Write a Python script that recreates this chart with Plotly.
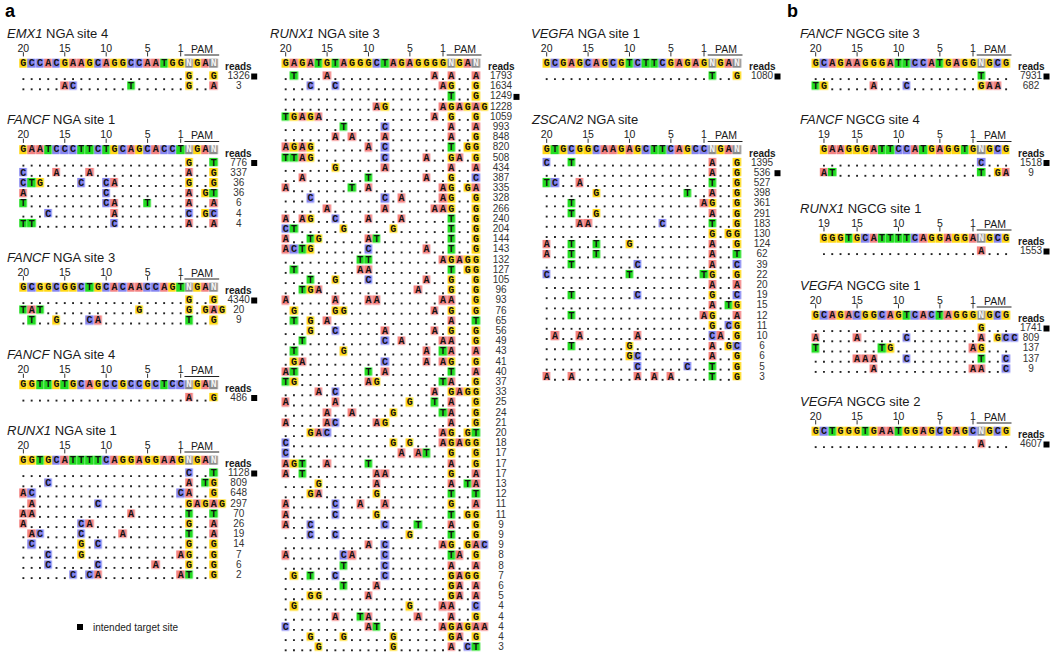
import plotly.graph_objects as go

# ======================= DATA =======================
# Reference = protospacer (5'->3') + PAM.  Mutant rows list mismatches as "<column><base>",
# column 1 = leftmost protospacer base; columns after the PAM are insertions.
EMX1_NGA4_REF = "GCCACGAAGCAGGCCAATGGNGAN"
EMX1_NGA4_MUT = ["21G 24G", "6A 7C 14T 21G 24A"]
EMX1_NGA4_READS = [1326, 3]

FANCF_NGA1_REF = "GAATCCCTTCTGCAGCACCTNGAN"
FANCF_NGA1_MUT = ["21G 24T", "1C 5A 9A 21A 24G", "1C 2T 3G 8C 11C 12A 21G 24G",
                  "1A 11C 21A 23G 24T", "1T 11C 12A 16T 21A 24A",
                  "4C 12A 21C 23G 24C", "1T 2T 12C 21A 24A"]
FANCF_NGA1_READS = [776, 337, 36, 36, 6, 4, 4]

FANCF_NGA3_REF = "GCGGCGGCTGCACAACCAGTNGAN"
FANCF_NGA3_MUT = ["21G 24G", "1T 2A 3T 15G 21G 23G 24A 25G", "2T 5G 9C 10A 21T 24G"]
FANCF_NGA3_READS = [4340, 20, 9]

FANCF_NGA4_REF = "GGTTGTGCAGCCGCCGCTCCNGAN"
FANCF_NGA4_MUT = ["21A 24G"]
FANCF_NGA4_READS = [486]

RUNX1_NGA1_REF = "GGTGCATTTTCAGGAGGAAGNGAN"
RUNX1_NGA1_MUT = ["21C 24T", "4C 21A 23T 24G", "1A 2C 20C 21A 24G",
                  "2A 10C 21G 22A 23G 24A 25G", "1A 2A 14A 21T 24T", "1A 8C 9A 21G 24A",
                  "2A 3C 8C 13A 21T 24A", "2C 8G 10C 21G 24G", "4C 8G 20A 21G 24G",
                  "4C 10C 17A 21G 24G", "7C 9C 10A 20A 21T 24G"]
RUNX1_NGA1_READS = [1128, 809, 648, 297, 70, 26, 19, 14, 7, 6, 2]

RUNX1_NGA3_REF = "GAGATGTAGGGCTAGAGGGGNGAN"
RUNX1_NGA3_MUT = [
    "2T 6A 19A 21A 24A", "4C 7C 20A 21G 24G", "21T 24G", "12A 13G 20A 21G 22A 23G 24A 25G",
    "1T 2G 3A 4G 5A 19A 21G 24G", "8T 13C 21A 24A", "7A 9A 13A 21A 24G",
    "1A 2G 3A 4G 11A 13C 21T 23G 24G", "1T 2T 3A 4G 13C 18A 21G 22A 24G", "7G 13A 21A 24A",
    "3A 11T 18A 21G 24C", "1A 9T 11A 20A 21G 23G 24A", "4C 13C 15A 20A 21G 24G",
    "6A 13A 19A 20A 21G 24G", "1A 3A 4G 7C 11A 15A 21T 24G", "1C 2T 8G 14G 21T 24G",
    "1A 4T 5G 11A 12T 21T 24G", "1A 2C 3T 4G 11C 18A 21T 24G", "10T 11T 20A 21G 22A 23G 24G",
    "2T 10A 11A 21T 23G 24G", "4T 7G 11C 18A 21G 24G", "3T 4G 5A 17A 21G 24G",
    "1A 7A 11A 12A 20A 21A 24G", "2G 7G 8G 19A 21G 24G", "2T 4G 6A 21A 24T",
    "4G 7C 13A 19A 21G 24G", "3T 13C 15A 20A 21A 24G", "2T 8G 18A 20T 21A 24A",
    "2G 3A 13C 18A 20A 21G 24G", "1A 2T 11T 13A 21T 24A", "1T 2G 11A 12G 20T 21A 24G",
    "5A 7C 19A 21G 22A 23G 24G", "1A 7A 16G 19T 21A 24G", "6A 9A 14G 20T 21A 24G",
    "1A 6A 7C 12A 13G 21A 24G", "4G 5A 6C 20A 21G 23G 24T", "1C 14G 16G 20A 21G 22A 23G 24G",
    "1C 15A 17A 18T 21G 24G", "1A 2G 3T 6A 11T 21A 24G", "1A 3T 12A 13A 21G 24A",
    "5G 12A 21A 23T 24A", "4G 5A 12G 21T 24T", "1A 7C 10A 13A 21G 24A",
    "1A 7C 12G 21T 23G 24G", "1A 4C 13C 17T 21A 24G", "4C 7C 16G 21T 24G",
    "11A 13C 20A 21G 23G 24A 25C", "1A 8C 9A 13C 21T 22A 24G", "8T 13C 21A 24A",
    "2G 4T 7C 13C 21G 22A 23G 24G", "8T 12A 21G 22A 24A", "4G 5G 11A 21G 22A 24A",
    "2G 16G 20A 21A 24C", "7A 10T 11A 17A 21A 24G", "1C 11A 12T 20A 21G 22A 23G 24A 25A",
    "4G 8G 14G 21G 22A 24G", "5G 14G 21A 23C 24T"]
RUNX1_NGA3_READS = [1793, 1634, 1249, 1228, 1059, 993, 848, 820, 508, 434, 387, 335, 328, 266,
                    240, 204, 144, 143, 132, 127, 105, 96, 93, 76, 65, 56, 49, 43, 41, 40, 37,
                    33, 25, 24, 21, 20, 18, 17, 17, 17, 13, 12, 11, 11, 9, 9, 9, 8, 8, 7, 6, 5,
                    4, 4, 4, 4, 3]

VEGFA_NGA1_REF = "GCGAGCAGCGTCTTCGAGAGNGAN"
VEGFA_NGA1_MUT = ["21T 24G"]
VEGFA_NGA1_READS = [1080]

ZSCAN2_NGA_REF = "GTGCGGCAAGAGCTTCAGCCNGAN"
ZSCAN2_NGA_MUT = ["1C 4T 21A 24G", "21A 24G", "1T 2C 5A 21T 24G", "7G 18T 21A 24G",
                  "4T 20A 21G 24G", "4T 7G 21A 24G", "5A 6A 15C 21T 24G", "21G 23G 24G",
                  "1A 4T 7T 11G 21A 24G", "1A 4T 7T 21A 24T", "4T 12C 21A 24C",
                  "1C 11T 20T 21G 24G", "21A 24A", "4T 12C 21G 24C", "21A 23T 24G",
                  "4T 20A 21G 24A", "21G 23C 24G", "2A 5A 12A 21C 22A 24G",
                  "4T 11G 21A 23G 24C", "11G 12C 21A 24G", "12C 18C 21T 24G",
                  "1A 4A 12A 14A 16A 21T 24G"]
ZSCAN2_NGA_READS = [1395, 536, 527, 398, 361, 291, 183, 130, 124, 62, 39, 22, 20, 19, 15, 12,
                    11, 10, 6, 6, 5, 3]

FANCF_NGCG3_REF = "GCAGAAGGGATTCCATGAGGNGCG"
FANCF_NGCG3_MUT = ["21T", "1T 2G 8A 12C 21G 22A 23A"]
FANCF_NGCG3_READS = [7931, 682]

FANCF_NGCG4_REF = "GAAGGGATTCCATGAGGTGNGCG"
FANCF_NGCG4_MUT = ["20C", "1A 2T 20T 22G 23A"]
FANCF_NGCG4_READS = [1518, 9]

RUNX1_NGCG1_REF = "GGGTGCATTTTCAGGAGGANGCG"
RUNX1_NGCG1_MUT = ["20A"]
RUNX1_NGCG1_READS = [1553]

VEGFA_NGCG1_REF = "GCAGACGGCAGTCACTAGGGNGCG"
VEGFA_NGCG1_MUT = ["21G", "1A 6A 12C 21A 23G 24C 25C", "1T 9T 10G 20A 21G",
                   "6A 7A 8A 12C 21T 24C", "8A 20A 21A 24C"]
VEGFA_NGCG1_READS = [1741, 809, 137, 137, 9]

VEGFA_NGCG2_REF = "GCTGGGTGAATGGAGCGAGCNGCG"
VEGFA_NGCG2_MUT = ["21A"]
VEGFA_NGCG2_READS = [4607]

# (gene, site, reference, mutant rows, reads, index of intended target row)
PANELS = [
    ("EMX1", "NGA site 4", EMX1_NGA4_REF, EMX1_NGA4_MUT, EMX1_NGA4_READS, 0),
    ("FANCF", "NGA site 1", FANCF_NGA1_REF, FANCF_NGA1_MUT, FANCF_NGA1_READS, 0),
    ("FANCF", "NGA site 3", FANCF_NGA3_REF, FANCF_NGA3_MUT, FANCF_NGA3_READS, 0),
    ("FANCF", "NGA site 4", FANCF_NGA4_REF, FANCF_NGA4_MUT, FANCF_NGA4_READS, 0),
    ("RUNX1", "NGA site 1", RUNX1_NGA1_REF, RUNX1_NGA1_MUT, RUNX1_NGA1_READS, 0),
    ("RUNX1", "NGA site 3", RUNX1_NGA3_REF, RUNX1_NGA3_MUT, RUNX1_NGA3_READS, 2),
    ("VEGFA", "NGA site 1", VEGFA_NGA1_REF, VEGFA_NGA1_MUT, VEGFA_NGA1_READS, 0),
    ("ZSCAN2", "NGA site", ZSCAN2_NGA_REF, ZSCAN2_NGA_MUT, ZSCAN2_NGA_READS, 1),
    ("FANCF", "NGCG site 3", FANCF_NGCG3_REF, FANCF_NGCG3_MUT, FANCF_NGCG3_READS, 0),
    ("FANCF", "NGCG site 4", FANCF_NGCG4_REF, FANCF_NGCG4_MUT, FANCF_NGCG4_READS, 0),
    ("RUNX1", "NGCG site 1", RUNX1_NGCG1_REF, RUNX1_NGCG1_MUT, RUNX1_NGCG1_READS, 0),
    ("VEGFA", "NGCG site 1", VEGFA_NGCG1_REF, VEGFA_NGCG1_MUT, VEGFA_NGCG1_READS, 0),
    ("VEGFA", "NGCG site 2", VEGFA_NGCG2_REF, VEGFA_NGCG2_MUT, VEGFA_NGCG2_READS, 0),
]

# ======================= LAYOUT / STYLE =======================
W, H = 1050, 656
CELL_W = 8.28          # width of one base
ROW_H = 10.2           # row pitch
COL_X = {"L": 180.7, "M": 443.0, "R": 704.0, "B": 973.0}   # x of protospacer position 1
PANEL_POS = [("L", 33), ("L", 119.5), ("L", 257), ("L", 354.5), ("L", 430),
             ("M", 33), ("R", 33), ("R", 119.5),
             ("B", 33), ("B", 119.5), ("B", 208), ("B", 285), ("B", 401)]
BASE_COLOR = {"A": "#F28282", "C": "#8585F0", "G": "#FFD814", "T": "#22DD22", "N": "#8C8C8C"}
CODES = {"A": 0, "C": 1, "G": 2, "T": 3, "N": 4}
CSCALE = [[0, BASE_COLOR["A"]], [0.125, BASE_COLOR["A"]], [0.125, BASE_COLOR["C"]],
          [0.375, BASE_COLOR["C"]], [0.375, BASE_COLOR["G"]], [0.625, BASE_COLOR["G"]],
          [0.625, BASE_COLOR["T"]], [0.875, BASE_COLOR["T"]], [0.875, BASE_COLOR["N"]],
          [1, BASE_COLOR["N"]]]
SANS = "Liberation Sans, Arial, sans-serif"
MONO = "Liberation Mono, Courier New, monospace"

fig = go.Figure()
shapes, annotations = [], []
let_x, let_y, let_t, let_c = [], [], [], []
dot_x, dot_y = [], []
num_x, num_y, num_t = [], [], []
tick_x, tick_y = [], []
rd_x, rd_y, rd_t = [], [], []
tg_x, tg_y = [], []


def parse(m):
    out = {}
    for tok in m.split():
        out[int(tok[:-1])] = tok[-1]
    return out


for (gene, site, ref, muts, reads, target), (col, top) in zip(PANELS, PANEL_POS):
    n = len(ref) - 4
    x1 = COL_X[col]

    def xk(k):
        return x1 + (k - n) * CELL_W

    ref_y = top + 30
    row0 = top + 43.5
    parsed = [parse(m) for m in muts]
    ncols = max([len(ref)] + [max(p) for p in parsed])

    # title
    annotations.append(dict(x=x1 - 19 * CELL_W - 18, y=top, xref="x", yref="y",
                            text=f"<i>{gene}</i> {site}", showarrow=False,
                            xanchor="left", yanchor="middle",
                            font=dict(family=SANS, size=13, color="#1a1a1a")))
    # position numbers
    for p in ([20, 15, 10, 5, 1] if n == 20 else [19, 15, 10, 5, 1]):
        k = n - p + 1
        num_x.append(xk(k)); num_y.append(top + 16); num_t.append(str(p))
        tick_x.append(xk(k)); tick_y.append(top + 21.3)
    # PAM label + bar
    annotations.append(dict(x=x1 + 2.6 * CELL_W, y=top + 15.5, xref="x", yref="y", text="PAM",
                            showarrow=False, xanchor="center", yanchor="middle",
                            font=dict(family=SANS, size=10.5, color="#1a1a1a")))
    shapes.append(dict(type="line", xref="x", yref="y", x0=x1 + 0.45 * CELL_W,
                       x1=x1 + 4.65 * CELL_W, y0=top + 22, y1=top + 22,
                       line=dict(color="#222", width=1)))
    # reference row
    fig.add_trace(go.Heatmap(z=[[CODES[c] for c in ref]], x0=xk(1), dx=CELL_W, y0=ref_y, dy=8.6,
                             colorscale=CSCALE, zmin=0, zmax=4, showscale=False,
                             xgap=0.4, hoverinfo="skip"))
    for k, c in enumerate(ref, start=1):
        let_x.append(xk(k)); let_y.append(ref_y); let_t.append(c)
        let_c.append("#f4f4f4" if c == "N" else "#111")
    # "reads" label
    annotations.append(dict(x=x1 + 58, y=ref_y + 3.5, xref="x", yref="y", text="<b>reads</b>",
                            showarrow=False, xanchor="center", yanchor="middle",
                            font=dict(family=SANS, size=10, color="#1a1a1a")))
    # mutant rows
    Z = []
    for i, p in enumerate(parsed):
        y = row0 + i * ROW_H
        Z.append([CODES[p[k]] if k in p else None for k in range(1, ncols + 1)])
        for k in range(1, ncols + 1):
            if k in p:
                let_x.append(xk(k)); let_y.append(y); let_t.append(p[k])
                let_c.append("#111")
            elif k <= len(ref):
                dot_x.append(xk(k)); dot_y.append(y + 2.6)
        rd_x.append(x1 + 58); rd_y.append(y); rd_t.append(str(reads[i]))
        if i == target:
            tg_x.append(x1 + 73.5); tg_y.append(y)
    fig.add_trace(go.Heatmap(z=Z, x0=xk(1), dx=CELL_W, y0=row0, dy=ROW_H,
                             colorscale=CSCALE, zmin=0, zmax=4, showscale=False,
                             xgap=0.4, ygap=1.7, hoverinfo="skip"))

fig.add_trace(go.Scatter(x=dot_x, y=dot_y, mode="markers", hoverinfo="skip",
                         marker=dict(symbol="square", size=1.9, color="#222", line=dict(width=0))))
fig.add_trace(go.Scatter(x=let_x, y=let_y, text=let_t, mode="text", hoverinfo="skip",
                         textposition="middle center",
                         textfont=dict(family=MONO, size=10, color=let_c, weight="bold")))
fig.add_trace(go.Scatter(x=num_x, y=num_y, text=num_t, mode="text", hoverinfo="skip",
                         textposition="middle center",
                         textfont=dict(family=SANS, size=10.5, color="#1a1a1a")))
fig.add_trace(go.Scatter(x=tick_x, y=tick_y, mode="markers", hoverinfo="skip",
                         marker=dict(symbol="line-ns", size=3, line=dict(width=1, color="#333"))))
fig.add_trace(go.Scatter(x=rd_x, y=rd_y, text=rd_t, mode="text", hoverinfo="skip",
                         textposition="middle center",
                         textfont=dict(family=SANS, size=10, color="#333")))
fig.add_trace(go.Scatter(x=tg_x, y=tg_y, mode="markers", hoverinfo="skip",
                         marker=dict(symbol="square", size=6, color="#000", line=dict(width=0))))

# legend for intended target site
LEG_X, LEG_Y = 80, 627
fig.add_trace(go.Scatter(x=[LEG_X], y=[LEG_Y], mode="markers", hoverinfo="skip",
                         marker=dict(symbol="square", size=6, color="#000", line=dict(width=0))))
annotations.append(dict(x=LEG_X + 11, y=LEG_Y, xref="x", yref="y", text="intended target site",
                        showarrow=False, xanchor="left", yanchor="middle",
                        font=dict(family=SANS, size=10, color="#1a1a1a")))
# panel letters
annotations.append(dict(x=3, y=11, xref="x", yref="y", text="<b>a</b>", showarrow=False,
                        xanchor="left", yanchor="middle",
                        font=dict(family=SANS, size=18, color="#000")))
annotations.append(dict(x=785, y=11, xref="x", yref="y", text="<b>b</b>", showarrow=False,
                        xanchor="left", yanchor="middle",
                        font=dict(family=SANS, size=18, color="#000")))

fig.update_layout(
    width=W, height=H, margin=dict(l=0, r=0, t=0, b=0),
    paper_bgcolor="white", plot_bgcolor="white", showlegend=False,
    xaxis=dict(range=[0, W], visible=False, fixedrange=True),
    yaxis=dict(range=[H, 0], visible=False, fixedrange=True),
    shapes=shapes, annotations=annotations,
)
fig.write_html("out.html", config={"displayModeBar": False},
               post_script="document.body.style.margin='0px';document.body.style.padding='0px';")
